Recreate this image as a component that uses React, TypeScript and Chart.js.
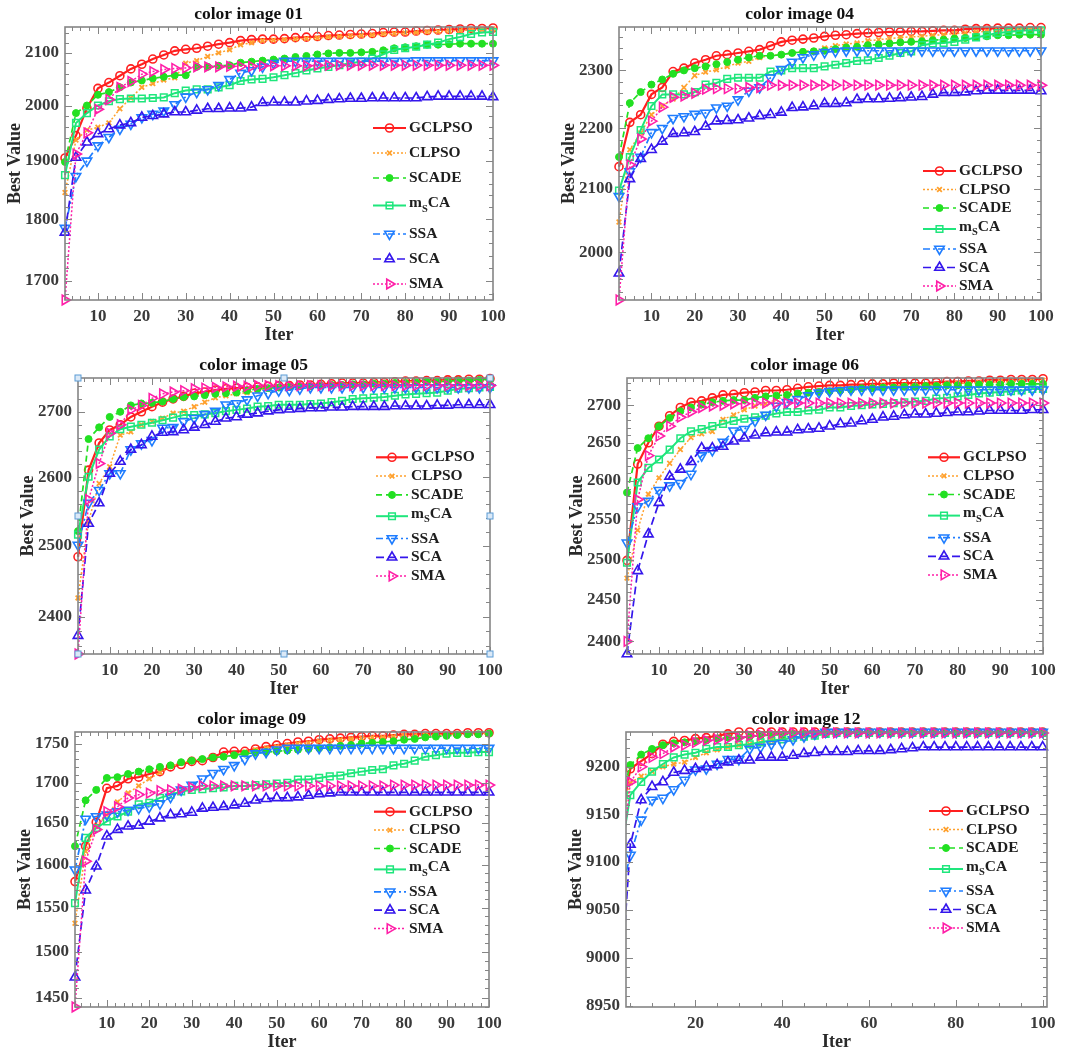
import React, { useEffect, useRef } from 'react';
import { Chart, registerables } from 'chart.js';
import { drawPoint } from 'chart.js/helpers';

Chart.register(...registerables);

const FONT = "'Liberation Serif', 'Times New Roman', serif";

// ---------------- data ----------------
const ITER = [2.5, 5, 7.5, 10, 12.5, 15, 17.5, 20, 22.5, 25, 27.5, 30, 32.5, 35, 37.5, 40, 42.5, 45, 47.5, 50,
  52.5, 55, 57.5, 60, 62.5, 65, 67.5, 70, 72.5, 75, 77.5, 80, 82.5, 85, 87.5, 90, 92.5, 95, 97.5, 100];

const SERIES_NAMES = ['GCLPSO', 'CLPSO', 'SCADE', 'mSCA', 'SSA', 'SCA', 'SMA'];

// color image 01
const img01_GCLPSO = [1905, 1945, 1995, 2032, 2043, 2056, 2069, 2078, 2088, 2096, 2104, 2107, 2109, 2113, 2117, 2120, 2124, 2126, 2127, 2127, 2128, 2130, 2131, 2132, 2134, 2135, 2136, 2137, 2138, 2140, 2141, 2141, 2143, 2144, 2145, 2146, 2147, 2148, 2148, 2149];
const img01_CLPSO = [1845, 1937, 1955, 1960, 1968, 1994, 2014, 2034, 2041, 2048, 2052, 2080, 2085, 2093, 2100, 2106, 2116, 2120, 2124, 2125, 2126, 2127, 2128, 2129, 2131, 2132, 2133, 2134, 2135, 2137, 2138, 2139, 2140, 2141, 2142, 2143, 2144, 2145, 2146, 2147];
const img01_SCADE = [1898, 1986, 2000, 2020, 2025, 2034, 2043, 2047, 2051, 2054, 2057, 2057, 2073, 2073, 2075, 2076, 2081, 2083, 2085, 2087, 2089, 2092, 2094, 2097, 2099, 2100, 2100, 2101, 2102, 2105, 2109, 2111, 2113, 2116, 2116, 2117, 2118, 2118, 2118, 2118];
const img01_mSCA = [1875, 1968, 1986, 2000, 2008, 2012, 2013, 2013, 2014, 2015, 2023, 2028, 2030, 2030, 2034, 2038, 2046, 2049, 2050, 2053, 2057, 2061, 2066, 2070, 2073, 2076, 2080, 2083, 2089, 2097, 2106, 2109, 2112, 2116, 2120, 2127, 2131, 2137, 2140, 2141];
const img01_SSA = [1785, 1873, 1900, 1927, 1942, 1957, 1966, 1978, 1984, 1990, 2002, 2016, 2025, 2030, 2038, 2049, 2061, 2066, 2073, 2080, 2084, 2084, 2084, 2084, 2084, 2084, 2084, 2084, 2084, 2084, 2084, 2084, 2085, 2085, 2085, 2085, 2085, 2085, 2085, 2085];
const img01_SCA = [1778, 1906, 1933, 1948, 1957, 1964, 1968, 1978, 1981, 1984, 1988, 1988, 1991, 1994, 1994, 1995, 1995, 1997, 2005, 2006, 2006, 2006, 2008, 2009, 2011, 2012, 2013, 2013, 2014, 2014, 2014, 2014, 2014, 2016, 2017, 2017, 2017, 2017, 2017, 2016];
const img01_SMA = [1670, 1912, 1950, 1993, 2011, 2034, 2045, 2059, 2064, 2068, 2070, 2071, 2073, 2073, 2073, 2074, 2074, 2074, 2075, 2075, 2075, 2075, 2075, 2076, 2076, 2076, 2076, 2076, 2076, 2076, 2076, 2076, 2076, 2076, 2076, 2076, 2076, 2076, 2076, 2076];
const img01_yTicks = [1700, 1800, 1900, 2000, 2100];
const img01_xTicks = [10, 20, 30, 40, 50, 60, 70, 80, 90, 100];

// color image 04
const img04_GCLPSO = [2136, 2210, 2223, 2258, 2270, 2298, 2304, 2313, 2319, 2326, 2328, 2331, 2334, 2337, 2344, 2351, 2354, 2356, 2358, 2361, 2363, 2364, 2366, 2367, 2368, 2369, 2369, 2370, 2370, 2371, 2372, 2372, 2374, 2375, 2375, 2376, 2376, 2376, 2377, 2377];
const img04_CLPSO = [2047, 2164, 2192, 2223, 2238, 2250, 2270, 2291, 2297, 2301, 2307, 2313, 2316, 2323, 2326, 2328, 2331, 2334, 2335, 2340, 2344, 2347, 2349, 2353, 2355, 2357, 2359, 2360, 2361, 2363, 2364, 2366, 2367, 2369, 2370, 2371, 2372, 2372, 2373, 2373];
const img04_SCADE = [2152, 2243, 2262, 2275, 2284, 2294, 2300, 2304, 2307, 2311, 2315, 2319, 2323, 2326, 2326, 2328, 2331, 2333, 2334, 2335, 2338, 2341, 2342, 2345, 2346, 2348, 2350, 2351, 2352, 2354, 2355, 2357, 2358, 2360, 2361, 2363, 2363, 2364, 2364, 2364];
const img04_mSCA = [2097, 2152, 2197, 2238, 2258, 2258, 2258, 2262, 2275, 2278, 2285, 2287, 2287, 2287, 2298, 2300, 2304, 2304, 2304, 2307, 2310, 2313, 2317, 2318, 2322, 2326, 2331, 2334, 2345, 2348, 2349, 2351, 2355, 2359, 2363, 2367, 2369, 2371, 2372, 2372];
const img04_SSA = [2088, 2128, 2152, 2193, 2200, 2217, 2220, 2224, 2226, 2235, 2238, 2249, 2264, 2270, 2287, 2302, 2315, 2323, 2328, 2332, 2334, 2335, 2335, 2335, 2335, 2335, 2335, 2335, 2335, 2335, 2335, 2335, 2335, 2335, 2335, 2335, 2335, 2335, 2335, 2335];
const img04_SCA = [1968, 2116, 2149, 2164, 2178, 2191, 2192, 2194, 2203, 2212, 2213, 2214, 2217, 2221, 2223, 2227, 2235, 2236, 2238, 2242, 2242, 2243, 2249, 2250, 2250, 2251, 2252, 2253, 2254, 2258, 2261, 2261, 2262, 2264, 2265, 2265, 2265, 2265, 2265, 2264];
const img04_SMA = [1928, 2139, 2182, 2212, 2236, 2253, 2255, 2260, 2267, 2268, 2268, 2268, 2270, 2270, 2274, 2274, 2274, 2274, 2274, 2274, 2274, 2274, 2274, 2274, 2274, 2274, 2274, 2274, 2274, 2274, 2274, 2274, 2274, 2274, 2274, 2274, 2274, 2274, 2274, 2274];
const img04_yTicks = [2000, 2100, 2200, 2300];
const img04_xTicks = [10, 20, 30, 40, 50, 60, 70, 80, 90, 100];

// color image 05
const img05_GCLPSO = [2484, 2611, 2652, 2672, 2680, 2692, 2700, 2708, 2715, 2720, 2724, 2729, 2731, 2734, 2736, 2737, 2738, 2739, 2740, 2741, 2741, 2742, 2742, 2743, 2744, 2745, 2745, 2745, 2746, 2746, 2747, 2748, 2748, 2749, 2749, 2750, 2750, 2751, 2751, 2752];
const img05_CLPSO = [2426, 2535, 2591, 2616, 2664, 2669, 2680, 2685, 2690, 2698, 2701, 2708, 2715, 2722, 2725, 2728, 2730, 2733, 2736, 2738, 2739, 2740, 2741, 2741, 2742, 2743, 2744, 2744, 2745, 2745, 2746, 2747, 2747, 2748, 2748, 2749, 2749, 2750, 2750, 2751];
const img05_SCADE = [2521, 2658, 2676, 2692, 2700, 2710, 2713, 2714, 2716, 2720, 2723, 2724, 2726, 2728, 2729, 2730, 2733, 2736, 2737, 2738, 2739, 2740, 2740, 2741, 2742, 2742, 2743, 2743, 2744, 2744, 2745, 2745, 2746, 2747, 2747, 2748, 2749, 2749, 2750, 2751];
const img05_mSCA = [2516, 2601, 2642, 2662, 2673, 2677, 2680, 2683, 2687, 2691, 2695, 2695, 2696, 2698, 2701, 2703, 2705, 2708, 2709, 2711, 2711, 2711, 2712, 2713, 2715, 2717, 2720, 2721, 2722, 2723, 2725, 2727, 2728, 2729, 2730, 2733, 2736, 2737, 2738, 2739];
const img05_SSA = [2501, 2562, 2581, 2606, 2606, 2642, 2651, 2656, 2675, 2676, 2685, 2690, 2696, 2701, 2711, 2713, 2719, 2725, 2729, 2733, 2734, 2736, 2738, 2738, 2738, 2738, 2738, 2738, 2738, 2738, 2738, 2738, 2738, 2738, 2738, 2738, 2738, 2738, 2738, 2738];
const img05_SCA = [2374, 2532, 2562, 2606, 2624, 2642, 2649, 2662, 2668, 2669, 2672, 2676, 2680, 2685, 2690, 2692, 2696, 2698, 2701, 2703, 2704, 2705, 2706, 2706, 2707, 2707, 2708, 2708, 2708, 2708, 2709, 2709, 2709, 2709, 2710, 2710, 2711, 2711, 2711, 2711];
const img05_SMA = [2349, 2567, 2621, 2667, 2680, 2703, 2710, 2721, 2728, 2731, 2733, 2736, 2737, 2738, 2739, 2740, 2740, 2741, 2741, 2741, 2741, 2741, 2741, 2741, 2741, 2741, 2741, 2741, 2741, 2741, 2741, 2741, 2741, 2741, 2741, 2741, 2741, 2741, 2741, 2741];
const img05_yTicks = [2400, 2500, 2600, 2700];
const img05_xTicks = [10, 20, 30, 40, 50, 60, 70, 80, 90, 100];

// color image 06
const img06_GCLPSO = [2499, 2622, 2650, 2672, 2686, 2697, 2704, 2706, 2710, 2714, 2715, 2717, 2718, 2720, 2720, 2721, 2723, 2725, 2726, 2727, 2727, 2728, 2728, 2729, 2729, 2730, 2730, 2730, 2730, 2731, 2732, 2732, 2733, 2733, 2734, 2734, 2735, 2735, 2735, 2736];
const img06_CLPSO = [2477, 2537, 2583, 2604, 2623, 2641, 2657, 2662, 2665, 2681, 2687, 2694, 2699, 2702, 2708, 2712, 2715, 2717, 2719, 2720, 2722, 2723, 2723, 2725, 2726, 2726, 2727, 2727, 2728, 2728, 2729, 2730, 2730, 2731, 2731, 2732, 2732, 2733, 2733, 2734];
const img06_SCADE = [2585, 2643, 2656, 2672, 2683, 2692, 2697, 2701, 2704, 2706, 2707, 2707, 2710, 2712, 2713, 2714, 2716, 2717, 2718, 2719, 2720, 2721, 2723, 2723, 2724, 2724, 2725, 2725, 2726, 2726, 2727, 2727, 2727, 2728, 2728, 2728, 2729, 2729, 2729, 2729];
const img06_mSCA = [2496, 2598, 2617, 2628, 2641, 2656, 2665, 2668, 2672, 2675, 2679, 2682, 2684, 2686, 2689, 2691, 2691, 2693, 2694, 2697, 2697, 2699, 2700, 2701, 2702, 2703, 2704, 2705, 2706, 2709, 2710, 2712, 2714, 2716, 2717, 2718, 2719, 2720, 2722, 2722];
const img06_SSA = [2521, 2567, 2574, 2588, 2594, 2597, 2609, 2633, 2640, 2651, 2666, 2668, 2679, 2687, 2699, 2704, 2708, 2713, 2717, 2719, 2720, 2721, 2721, 2721, 2721, 2721, 2721, 2721, 2721, 2721, 2721, 2721, 2721, 2721, 2721, 2721, 2721, 2721, 2721, 2721];
const img06_SCA = [2385, 2486, 2532, 2572, 2606, 2615, 2625, 2643, 2643, 2645, 2652, 2656, 2660, 2663, 2664, 2664, 2667, 2668, 2669, 2672, 2675, 2676, 2679, 2681, 2684, 2685, 2687, 2688, 2688, 2689, 2690, 2691, 2691, 2692, 2693, 2693, 2693, 2693, 2694, 2694];
const img06_SMA = [2400, 2576, 2633, 2659, 2672, 2684, 2691, 2697, 2699, 2700, 2702, 2702, 2703, 2703, 2703, 2703, 2703, 2703, 2703, 2703, 2703, 2703, 2703, 2703, 2703, 2703, 2703, 2703, 2703, 2703, 2703, 2703, 2703, 2703, 2703, 2703, 2703, 2703, 2703, 2703];
const img06_yTicks = [2400, 2450, 2500, 2550, 2600, 2650, 2700];
const img06_xTicks = [10, 20, 30, 40, 50, 60, 70, 80, 90, 100];

// color image 09
const img09_GCLPSO = [1580, 1622, 1651, 1693, 1696, 1705, 1707, 1711, 1714, 1720, 1723, 1727, 1728, 1732, 1739, 1740, 1740, 1743, 1746, 1748, 1750, 1752, 1753, 1755, 1756, 1757, 1758, 1759, 1760, 1760, 1761, 1762, 1762, 1763, 1763, 1763, 1763, 1764, 1764, 1764];
const img09_CLPSO = [1532, 1616, 1646, 1660, 1676, 1687, 1696, 1705, 1713, 1720, 1725, 1728, 1729, 1732, 1733, 1735, 1739, 1742, 1744, 1746, 1748, 1750, 1751, 1753, 1754, 1755, 1756, 1757, 1758, 1758, 1759, 1760, 1760, 1761, 1761, 1762, 1762, 1762, 1763, 1763];
const img09_SCADE = [1622, 1678, 1691, 1706, 1707, 1711, 1714, 1717, 1720, 1722, 1726, 1728, 1730, 1732, 1733, 1735, 1737, 1738, 1739, 1740, 1741, 1742, 1743, 1744, 1745, 1747, 1748, 1750, 1751, 1752, 1753, 1755, 1756, 1758, 1759, 1760, 1761, 1762, 1762, 1763];
const img09_mSCA = [1555, 1632, 1644, 1652, 1658, 1664, 1673, 1675, 1681, 1685, 1689, 1691, 1692, 1693, 1694, 1696, 1696, 1697, 1698, 1699, 1700, 1704, 1704, 1706, 1708, 1709, 1712, 1714, 1716, 1717, 1722, 1724, 1728, 1733, 1735, 1737, 1738, 1738, 1739, 1739];
const img09_SSA = [1594, 1655, 1658, 1660, 1664, 1666, 1668, 1670, 1674, 1682, 1691, 1697, 1705, 1712, 1717, 1722, 1730, 1737, 1739, 1742, 1744, 1744, 1744, 1744, 1744, 1744, 1744, 1744, 1744, 1744, 1744, 1744, 1744, 1744, 1744, 1744, 1744, 1744, 1744, 1744];
const img09_SCA = [1472, 1570, 1598, 1634, 1642, 1646, 1647, 1652, 1656, 1660, 1661, 1663, 1668, 1669, 1670, 1672, 1674, 1678, 1680, 1681, 1681, 1682, 1684, 1686, 1687, 1688, 1688, 1688, 1688, 1688, 1688, 1688, 1688, 1688, 1688, 1688, 1688, 1688, 1688, 1688];
const img09_SMA = [1440, 1604, 1642, 1664, 1670, 1681, 1685, 1687, 1690, 1691, 1692, 1694, 1696, 1696, 1696, 1696, 1696, 1696, 1696, 1696, 1696, 1696, 1696, 1696, 1696, 1696, 1696, 1696, 1696, 1696, 1697, 1697, 1697, 1697, 1697, 1697, 1697, 1697, 1697, 1697];
const img09_yTicks = [1450, 1500, 1550, 1600, 1650, 1700, 1750];
const img09_xTicks = [10, 20, 30, 40, 50, 60, 70, 80, 90, 100];

// color image 12
const img12_GCLPSO = [9135, 9198, 9206, 9214, 9224, 9227, 9228, 9230, 9231, 9233, 9235, 9237, 9237, 9237, 9237, 9237, 9237, 9237, 9237, 9237, 9237, 9237, 9237, 9237, 9237, 9237, 9237, 9237, 9237, 9237, 9237, 9237, 9237, 9237, 9237, 9237, 9237, 9237, 9237, 9237];
const img12_CLPSO = [9130, 9183, 9190, 9195, 9200, 9203, 9205, 9210, 9215, 9218, 9221, 9223, 9224, 9226, 9228, 9230, 9231, 9232, 9233, 9235, 9235, 9236, 9236, 9236, 9236, 9236, 9236, 9236, 9236, 9236, 9236, 9236, 9236, 9236, 9236, 9236, 9236, 9236, 9236, 9236];
const img12_SCADE = [9160, 9202, 9213, 9219, 9223, 9225, 9226, 9227, 9228, 9230, 9231, 9231, 9232, 9233, 9234, 9234, 9235, 9235, 9235, 9235, 9236, 9236, 9236, 9236, 9236, 9236, 9236, 9236, 9236, 9236, 9236, 9236, 9236, 9236, 9236, 9236, 9236, 9236, 9236, 9236];
const img12_mSCA = [9100, 9170, 9184, 9195, 9203, 9210, 9213, 9215, 9219, 9221, 9221, 9223, 9224, 9226, 9228, 9229, 9231, 9232, 9233, 9235, 9236, 9236, 9236, 9236, 9236, 9236, 9236, 9236, 9236, 9236, 9236, 9236, 9236, 9236, 9236, 9236, 9236, 9236, 9236, 9236];
const img12_SSA = [9060, 9107, 9144, 9165, 9167, 9176, 9186, 9197, 9198, 9203, 9208, 9208, 9219, 9221, 9224, 9225, 9229, 9232, 9235, 9237, 9237, 9237, 9237, 9237, 9237, 9237, 9237, 9237, 9237, 9237, 9237, 9237, 9237, 9237, 9237, 9237, 9237, 9237, 9237, 9237];
const img12_SCA = [8949, 9118, 9165, 9179, 9184, 9194, 9196, 9198, 9200, 9202, 9205, 9207, 9207, 9210, 9210, 9210, 9212, 9214, 9215, 9216, 9216, 9216, 9217, 9217, 9217, 9218, 9219, 9220, 9221, 9221, 9221, 9221, 9221, 9221, 9221, 9221, 9221, 9221, 9221, 9221];
const img12_SMA = [9080, 9184, 9200, 9210, 9214, 9221, 9223, 9226, 9228, 9229, 9230, 9231, 9233, 9234, 9235, 9236, 9236, 9236, 9236, 9236, 9236, 9236, 9236, 9236, 9236, 9236, 9236, 9236, 9236, 9236, 9236, 9236, 9236, 9236, 9236, 9236, 9236, 9236, 9236, 9236];
const img12_yTicks = [8950, 9000, 9050, 9100, 9150, 9200];
const img12_xTicks = [20, 40, 60, 80, 100];

// ---------------- styles ----------------
const SERIES_STYLES = [
  { color: '#ff1f1f', dash: [] as number[], width: 2.2, pointStyle: 'circle', rotation: 0, radius: 4, filled: false, pbw: 1.6 },
  { color: '#ffa12e', dash: [2, 2], width: 1.5, pointStyle: 'crossRot', rotation: 0, radius: 3.3, filled: false, pbw: 1.8 },
  { color: '#22e022', dash: [6, 4], width: 1.7, pointStyle: 'circle', rotation: 0, radius: 3.5, filled: true, pbw: 1 },
  { color: '#1fe67c', dash: [] as number[], width: 2, pointStyle: 'rect', rotation: 0, radius: 4.7, filled: false, pbw: 1.5 },
  { color: '#1f7dff', dash: [7, 3, 2, 3], width: 1.7, pointStyle: 'triangle', rotation: 180, radius: 5.5, filled: false, pbw: 1.6 },
  { color: '#3416ec', dash: [8, 4], width: 1.7, pointStyle: 'triangle', rotation: 0, radius: 5.5, filled: false, pbw: 1.6 },
  { color: '#ff1fa8', dash: [2, 2], width: 1.5, pointStyle: 'triangle', rotation: 90, radius: 5.5, filled: false, pbw: 1.6 },
];

const Y_AXIS_W = 60.8;
const X_AXIS_H = 46;

const PANELS = [
  {
    title: 'color image 01',
    series: [img01_GCLPSO, img01_CLPSO, img01_SCADE, img01_mSCA, img01_SSA, img01_SCA, img01_SMA],
    yMin: 1670, yMax: 2151, yTicks: img01_yTicks, yMinor: 20,
    xMin: 2.5, xMax: 100, xTicks: img01_xTicks, xMinor: 2,
    canvas: { x: 0, y: 0, w: 542, h: 350 },
    area: { l: 65, t: 27, r: 493, b: 300 },
    legend: { dy: 101, step: 25, extra: 6, lineX: 120, textX: 84 },
    handles: false,
  },
  {
    title: 'color image 04',
    series: [img04_GCLPSO, img04_CLPSO, img04_SCADE, img04_mSCA, img04_SSA, img04_SCA, img04_SMA],
    yMin: 1928, yMax: 2378, yTicks: img04_yTicks, yMinor: 20,
    xMin: 2.5, xMax: 100, xTicks: img04_xTicks, xMinor: 2,
    canvas: { x: 542, y: 0, w: 542, h: 350 },
    area: { l: 619, t: 27, r: 1041, b: 300 },
    legend: { dy: 144, step: 18.5, extra: 4, lineX: 118, textX: 82 },
    handles: false,
  },
  {
    title: 'color image 05',
    series: [img05_GCLPSO, img05_CLPSO, img05_SCADE, img05_mSCA, img05_SSA, img05_SCA, img05_SMA],
    yMin: 2349, yMax: 2753, yTicks: img05_yTicks, yMinor: 20,
    xMin: 2.5, xMax: 100, xTicks: img05_xTicks, xMinor: 2,
    canvas: { x: 0, y: 350, w: 542, h: 350 },
    area: { l: 78, t: 378, r: 490, b: 654 },
    legend: { dy: 79.3, step: 18.8, extra: 6, lineX: 114, textX: 79 },
    handles: true,
  },
  {
    title: 'color image 06',
    series: [img06_GCLPSO, img06_CLPSO, img06_SCADE, img06_mSCA, img06_SSA, img06_SCA, img06_SMA],
    yMin: 2385, yMax: 2737, yTicks: img06_yTicks, yMinor: 10,
    xMin: 2.5, xMax: 100, xTicks: img06_xTicks, xMinor: 2,
    canvas: { x: 542, y: 350, w: 542, h: 350 },
    area: { l: 627, t: 378, r: 1043, b: 654 },
    legend: { dy: 79.3, step: 18.6, extra: 6, lineX: 115, textX: 80 },
    handles: false,
  },
  {
    title: 'color image 09',
    series: [img09_GCLPSO, img09_CLPSO, img09_SCADE, img09_mSCA, img09_SSA, img09_SCA, img09_SMA],
    yMin: 1440, yMax: 1765, yTicks: img09_yTicks, yMinor: 10,
    xMin: 2.5, xMax: 100, xTicks: img09_xTicks, xMinor: 2,
    canvas: { x: 0, y: 700, w: 542, h: 360 },
    area: { l: 75, t: 732, r: 489, b: 1007 },
    legend: { dy: 79.7, step: 18.4, extra: 6.5, lineX: 115, textX: 80 },
    handles: false,
  },
  {
    title: 'color image 12',
    series: [img12_GCLPSO, img12_CLPSO, img12_SCADE, img12_mSCA, img12_SSA, img12_SCA, img12_SMA],
    yMin: 8949, yMax: 9237, yTicks: img12_yTicks, yMinor: 10,
    xMin: 4, xMax: 101, xTicks: img12_xTicks, xMinor: 5,
    canvas: { x: 542, y: 700, w: 542, h: 360 },
    area: { l: 626, t: 732, r: 1047, b: 1007 },
    legend: { dy: 79, step: 18.5, extra: 6, lineX: 118, textX: 81 },
    handles: false,
  },
];

// ---------------- plugin: MATLAB-like box, ticks, legend ----------------
const matlabPlugin = {
  id: 'matlabFrame',
  afterDraw(chart: any, _args: any, opts: any) {
    const { ctx, chartArea: a, scales } = chart;
    const xs = scales.x;
    const ys = scales.y;
    ctx.save();
    ctx.strokeStyle = '#858585';
    ctx.lineWidth = 1;
    ctx.setLineDash([]);
    const majX: number[] = opts.xTicks;
    const majY: number[] = opts.yTicks;
    const xTick = (v: number, len: number) => {
      const px = Math.round(xs.getPixelForValue(v)) + 0.5;
      ctx.beginPath();
      ctx.moveTo(px, a.bottom); ctx.lineTo(px, a.bottom - len);
      ctx.moveTo(px, a.top); ctx.lineTo(px, a.top + len);
      ctx.stroke();
    };
    const yTick = (v: number, len: number) => {
      const py = Math.round(ys.getPixelForValue(v)) + 0.5;
      ctx.beginPath();
      ctx.moveTo(a.left, py); ctx.lineTo(a.left + len, py);
      ctx.moveTo(a.right, py); ctx.lineTo(a.right - len, py);
      ctx.stroke();
    };
    for (let v = Math.ceil(xs.min / opts.xMinor) * opts.xMinor; v <= xs.max; v += opts.xMinor) {
      if (!majX.includes(v)) xTick(v, 4);
    }
    majX.forEach((v) => xTick(v, 7));
    for (let v = Math.ceil(ys.min / opts.yMinor) * opts.yMinor; v <= ys.max; v += opts.yMinor) {
      if (!majY.includes(v)) yTick(v, 4);
    }
    majY.forEach((v) => yTick(v, 7));
    ctx.lineWidth = 1.6;
    ctx.strokeRect(a.left, a.top, a.right - a.left, a.bottom - a.top);

    // legend
    const lg = opts.legend;
    SERIES_STYLES.forEach((s, i) => {
      const ly = a.top + lg.dy + i * lg.step + (i >= 4 ? lg.extra : 0);
      const lineY = i === 3 ? ly + 2.5 : ly;
      const x0 = a.right - lg.lineX;
      const x1 = a.right - lg.textX - 3;
      ctx.strokeStyle = s.color;
      ctx.lineWidth = s.width;
      ctx.setLineDash(s.dash);
      ctx.beginPath();
      ctx.moveTo(x0, lineY);
      ctx.lineTo(x1, lineY);
      ctx.stroke();
      ctx.setLineDash([]);
      ctx.lineWidth = s.pbw;
      ctx.fillStyle = s.filled ? s.color : 'rgba(0,0,0,0)';
      drawPoint(ctx, { pointStyle: s.pointStyle as any, rotation: s.rotation, radius: s.radius, borderWidth: s.pbw }, (x0 + x1) / 2, lineY);
      ctx.fillStyle = '#1e1e1e';
      ctx.textBaseline = 'middle';
      ctx.textAlign = 'left';
      const tx = a.right - lg.textX;
      ctx.font = `bold 15.5px ${FONT}`;
      const name = SERIES_NAMES[i];
      if (name === 'mSCA') {
        ctx.fillText('m', tx, ly);
        const w1 = ctx.measureText('m').width;
        ctx.font = `bold 10.5px ${FONT}`;
        ctx.fillText('S', tx + w1, ly + 6);
        const w2 = ctx.measureText('S').width;
        ctx.font = `bold 15.5px ${FONT}`;
        ctx.fillText('CA', tx + w1 + w2, ly);
      } else {
        ctx.fillText(name, tx, ly);
      }
    });

    // selection handles (panel 05)
    if (opts.handles) {
      const mx = (a.left + a.right) / 2;
      const my = (a.top + a.bottom) / 2;
      const pts = [[a.left, a.top], [mx, a.top], [a.right, a.top], [a.left, my], [a.right, my], [a.left, a.bottom], [mx, a.bottom], [a.right, a.bottom]];
      ctx.lineWidth = 1;
      pts.forEach(([px, py]) => {
        ctx.fillStyle = '#dbe9f7';
        ctx.strokeStyle = '#5b9bd5';
        ctx.fillRect(px - 3, py - 3, 6, 6);
        ctx.strokeRect(px - 3, py - 3, 6, 6);
      });
    }
    ctx.restore();
  },
};

function Panel({ p }: { p: typeof PANELS[number] }) {
  const ref = useRef<HTMLCanvasElement>(null);
  useEffect(() => {
    const c = p.canvas;
    const a = p.area;
    const tickFont = { family: FONT, size: 17, weight: 'bold' as const };
    const clip = p.xMin > 3 ? { left: 0, top: 8, right: 8, bottom: 8 } : 8;
    const chart = new Chart(ref.current as HTMLCanvasElement, {
      type: 'line',
      data: {
        datasets: p.series.map((vals, i) => {
          const s = SERIES_STYLES[i];
          return {
            label: SERIES_NAMES[i],
            data: ITER.map((x, k) => ({ x, y: vals[k] })),
            borderColor: s.color,
            borderWidth: s.width,
            borderDash: s.dash,
            pointStyle: s.pointStyle as any,
            pointRotation: s.rotation,
            pointRadius: s.radius,
            pointBorderColor: s.color,
            pointBackgroundColor: s.filled ? s.color : 'rgba(0,0,0,0)',
            pointBorderWidth: s.pbw,
            tension: 0,
            fill: false,
            clip: clip as any,
            order: 10 - i,
          };
        }),
      },
      options: {
        animation: false,
        responsive: false,
        devicePixelRatio: 1,
        events: [],
        layout: {
          autoPadding: false,
          padding: {
            left: a.l - c.x - Y_AXIS_W,
            right: c.x + c.w - a.r,
            top: 0,
            bottom: c.y + c.h - a.b - X_AXIS_H,
          },
        },
        plugins: {
          legend: { display: false },
          tooltip: { enabled: false },
          title: {
            display: true,
            text: p.title,
            color: '#111',
            font: { family: FONT, size: 17.5, weight: 'bold' },
            padding: { top: a.t - c.y - 21 - 2.5, bottom: 2.5 },
          },
          matlabFrame: {
            xTicks: p.xTicks, yTicks: p.yTicks, xMinor: p.xMinor, yMinor: p.yMinor,
            legend: p.legend, handles: p.handles,
          },
        } as any,
        scales: {
          x: {
            type: 'linear',
            min: p.xMin,
            max: p.xMax,
            grid: { display: false, drawTicks: false },
            border: { display: false },
            ticks: { font: tickFont, color: '#3a3a3a', padding: 6, maxRotation: 0, autoSkip: false, callback: (v: any) => String(v) },
            afterBuildTicks: (s: any) => { s.ticks = p.xTicks.map((v) => ({ value: v })); },
            afterFit: (s: any) => { s.height = X_AXIS_H; s.paddingLeft = 0; s.paddingRight = 0; },
            title: { display: true, text: 'Iter', color: '#2a2a2a', font: { family: FONT, size: 18, weight: 'bold' }, padding: { top: 0, bottom: 0 } },
          },
          y: {
            type: 'logarithmic',
            min: p.yMin,
            max: p.yMax,
            grid: { display: false, drawTicks: false },
            border: { display: false },
            ticks: { font: tickFont, color: '#3a3a3a', padding: 6, autoSkip: false, callback: (v: any) => String(v) },
            afterBuildTicks: (s: any) => { s.ticks = p.yTicks.map((v) => ({ value: v })); },
            afterFit: (s: any) => { s.width = Y_AXIS_W; s.paddingTop = 0; s.paddingBottom = 0; },
            title: { display: true, text: 'Best Value', color: '#2a2a2a', font: { family: FONT, size: 18, weight: 'bold' }, padding: { top: 0, bottom: 0 } },
          },
        } as any,
      },
      plugins: [matlabPlugin],
    });
    return () => chart.destroy();
  }, [p]);
  return (
    <canvas
      ref={ref}
      width={p.canvas.w}
      height={p.canvas.h}
      style={{ position: 'absolute', left: p.canvas.x, top: p.canvas.y, width: p.canvas.w, height: p.canvas.h, display: 'block' }}
    />
  );
}

export default function App() {
  return (
    <div style={{ position: 'absolute', left: 0, top: 0, width: 1084, height: 1060, background: '#fff', overflow: 'hidden' }}>
      {PANELS.map((p) => (
        <Panel key={p.title} p={p} />
      ))}
    </div>
  );
}
